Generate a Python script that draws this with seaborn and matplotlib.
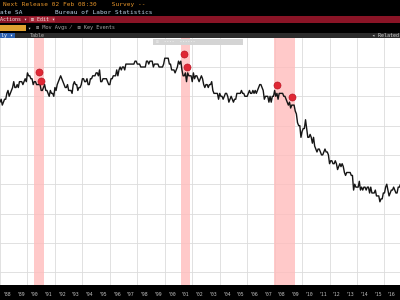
import numpy as np
import pandas as pd
import matplotlib
matplotlib.use("Agg")
import matplotlib.pyplot as plt
from matplotlib.patches import Rectangle
import seaborn as sns

# ---- data: civilian labor force participation rate, monthly (%), Jan 1988 onward
start_year = 1988
values_1988_1992 = [
    65.8, 65.9, 65.7, 65.8, 65.9, 65.9, 66.1, 66.2, 66.0, 66.1, 66.2, 66.3,
    66.5, 66.3, 66.3, 66.4, 66.3, 66.5, 66.5, 66.5, 66.4, 66.5, 66.6, 66.5,
    66.8, 66.7, 66.7, 66.6, 66.6, 66.4, 66.5, 66.5, 66.4, 66.4, 66.4, 66.4,
    66.2, 66.2, 66.3, 66.4, 66.2, 66.2, 66.1, 66.0, 66.2, 66.1, 66.1, 66.0,
    66.3, 66.2, 66.4, 66.5, 66.6, 66.7, 66.6, 66.5, 66.4, 66.3, 66.3, 66.4]
values_1993_1997 = [
    66.2, 66.2, 66.2, 66.1, 66.4, 66.5, 66.4, 66.4, 66.2, 66.3, 66.3, 66.4,
    66.6, 66.6, 66.5, 66.5, 66.6, 66.4, 66.4, 66.6, 66.6, 66.7, 66.7, 66.7,
    66.8, 66.8, 66.7, 66.9, 66.5, 66.5, 66.6, 66.6, 66.6, 66.6, 66.5, 66.4,
    66.4, 66.6, 66.6, 66.7, 66.7, 66.7, 66.9, 66.7, 66.9, 67.0, 66.9, 67.0,
    67.0, 66.9, 67.1, 67.1, 67.1, 67.1, 67.1, 67.1, 67.1, 67.1, 67.2, 67.2]
values_1998_2002 = [
    67.1, 67.1, 67.1, 67.0, 67.0, 67.0, 67.0, 67.0, 67.2, 67.2, 67.1, 67.2,
    67.2, 67.2, 67.0, 67.1, 67.1, 67.1, 67.1, 67.0, 67.0, 67.0, 67.0, 67.1,
    67.3, 67.3, 67.3, 67.3, 67.1, 67.1, 66.9, 66.9, 66.9, 66.8, 66.9, 67.0,
    67.2, 67.1, 67.2, 66.9, 66.7, 66.7, 66.8, 66.5, 66.8, 66.7, 66.7, 66.7,
    66.5, 66.8, 66.6, 66.7, 66.7, 66.6, 66.5, 66.6, 66.7, 66.6, 66.4, 66.3]
values_2003_2007 = [
    66.4, 66.4, 66.3, 66.4, 66.4, 66.5, 66.2, 66.1, 66.1, 66.1, 66.1, 65.9,
    66.1, 66.0, 66.0, 65.9, 66.0, 66.1, 66.1, 66.0, 65.8, 65.9, 66.0, 65.9,
    65.8, 65.9, 65.9, 66.1, 66.1, 66.1, 66.1, 66.2, 66.1, 66.1, 66.0, 66.0,
    66.0, 66.1, 66.2, 66.1, 66.1, 66.2, 66.1, 66.2, 66.1, 66.2, 66.3, 66.4,
    66.4, 66.3, 66.2, 65.9, 66.0, 66.0, 66.0, 65.8, 66.0, 65.8, 66.0, 66.0]
values_2008_2012 = [
    66.2, 66.0, 66.1, 65.9, 66.1, 66.1, 66.1, 66.1, 66.0, 66.0, 65.9, 65.8,
    65.7, 65.8, 65.6, 65.7, 65.7, 65.7, 65.5, 65.4, 65.1, 65.0, 65.0, 64.6,
    64.8, 64.9, 64.9, 65.2, 64.9, 64.6, 64.6, 64.7, 64.6, 64.4, 64.6, 64.3,
    64.2, 64.1, 64.2, 64.2, 64.1, 64.0, 64.0, 64.1, 64.2, 64.1, 64.1, 64.0,
    63.7, 63.8, 63.8, 63.7, 63.7, 63.8, 63.7, 63.5, 63.6, 63.7, 63.6, 63.7]
values_2013_2017 = [
    63.6, 63.4, 63.3, 63.4, 63.4, 63.4, 63.4, 63.3, 63.3, 62.8, 63.0, 62.9,
    62.9, 62.9, 63.1, 62.8, 62.9, 62.8, 62.9, 62.9, 62.8, 62.9, 62.9, 62.7,
    62.9, 62.7, 62.7, 62.7, 62.8, 62.6, 62.6, 62.6, 62.4, 62.5, 62.5, 62.7,
    62.7, 62.9, 63.0, 62.8, 62.6, 62.7, 62.8, 62.8, 62.9, 62.8, 62.7, 62.7,
    62.9, 62.9, 63.0, 62.9, 62.7, 62.8, 62.9, 62.9, 63.1, 62.7, 62.7, 62.7]

recession_starts = [1990.5, 2001.17, 2007.92]
recession_ends = [1991.2, 2001.84, 2009.45]

event_dates = [1990.85, 1990.99, 2001.40, 2001.60, 2008.17, 2009.26]
event_values = [66.83, 66.52, 67.44, 67.00, 66.39, 65.98]

tick_years = list(range(1988, 2017))
tick_labels = ["'%02d" % (y % 100) for y in tick_years]
grid_years = list(range(1988, 2018, 2))
grid_levels = list(range(60, 68))

header_line1 = "Next Release 02 Feb 08:30    Survey --"
header_line2_a = "ate SA"
header_line2_b = "Bureau of Labor Statistics"

# ---- build table
values = (values_1988_1992 + values_1993_1997 + values_1998_2002 +
          values_2003_2007 + values_2008_2012 + values_2013_2017)
n = len(values)
t = [start_year + i / 12.0 for i in range(n)]
df = pd.DataFrame({"t": t, "value": values})
ev = pd.DataFrame({"t": event_dates, "value": event_values})

sns.set_theme(style="white")
plt.rcParams["font.family"] = ["DejaVu Sans Mono", "DejaVu Sans"]

W, H = 400, 300
fig = plt.figure(figsize=(4, 3), dpi=100, facecolor="black")

def px_rect(x, y, w, h, color, z=0):
    fig.patches.append(Rectangle((x / W, 1 - (y + h) / H), w / W, h / H,
                                 transform=fig.transFigure, facecolor=color,
                                 edgecolor="none", zorder=z))

def px_text(x, y, s, color, size=4.4, **kw):
    fig.text(x / W, 1 - y / H, s, color=color, fontsize=size,
             va="center", ha=kw.pop("ha", "left"), **kw)

# header bands
px_rect(0, 16.5, 400, 6.5, "#8a1426")
px_rect(0, 32.5, 400, 5.5, "#2b2b2b")
px_text(3, 4.5, header_line1, "#e8962a")
px_text(0, 12.5, header_line2_a, "#bcd4ea")
px_text(55, 12.5, header_line2_b, "#bcd4ea")
px_text(0, 19.8, "Actions \u25be", "#f0e0e0", size=3.6)
px_rect(29, 17.2, 26, 5.2, "#a52a3a")
px_text(31, 19.8, "\u229e Edit \u25be", "#f0e0e0", size=3.6)
px_rect(0, 25, 26, 6, "#e0a030")
px_text(27, 28, "\u25be", "#c0c0c0", size=3.8)
px_text(36, 28, "\u229e Mov Avgs \u2044  \u229e Key Events", "#a8a8a8", size=3.8)
px_rect(0, 33, 15, 5, "#2a5fb0")
px_text(1, 35.5, "ly \u25be", "#ffffff", size=3.6)
px_text(30, 35.5, "Table", "#b0b0b0", size=3.6)
px_text(399, 35.5, "\u25c2 Related", "#d0d0d0", size=3.6, ha="right")

# ---- main axes
ax = fig.add_axes([0, 15 / H, 1, 247 / H])
ax.set_facecolor("white")
for i in range(len(recession_starts)):
    ax.axvspan(recession_starts[i], recession_ends[i], color="#ffbcbc",
               alpha=0.8, lw=0, zorder=1)
sns.lineplot(data=df, x="t", y="value", ax=ax, color="#151515",
             linewidth=1.0, zorder=3)
sns.scatterplot(data=ev, x="t", y="value", ax=ax, color="#e02835",
                edgecolor="#b01020", linewidth=0.4, s=26, zorder=4)

ax.set_xlim(1988.25, 2017.13)
ax.set_ylim(59.56, 67.99)
ax.set_xticks([y + 0.5 for y in tick_years])
ax.set_xticklabels(tick_labels)
ax.set_xticks(grid_years, minor=True)
ax.set_yticks(grid_levels)
ax.set_yticklabels([])
ax.tick_params(axis="x", which="both", length=0, colors="#c0c0c0",
               labelsize=3.5, pad=5)
ax.tick_params(axis="y", length=0)
ax.grid(False)
ax.grid(True, axis="x", which="minor", color="#dcdcdc", linewidth=0.6, zorder=0)
ax.grid(True, axis="y", which="major", color="#dcdcdc", linewidth=0.6, zorder=0)
ax.set_axisbelow(True)
ax.set_xlabel("")
ax.set_ylabel("")
for s in ax.spines.values():
    s.set_visible(False)

# light gray overlay box in plot top
px_rect(153, 38.5, 90, 6.5, "#d4d4d4", z=5)
px_text(156, 41.7, "\u229e  \u2022\u2022\u2022\u2022  \u2022\u2022\u2022\u2022\u2022\u2022", "#eeeeee", size=3.2, zorder=6)

fig.savefig("out.png", dpi=100, facecolor="black")
